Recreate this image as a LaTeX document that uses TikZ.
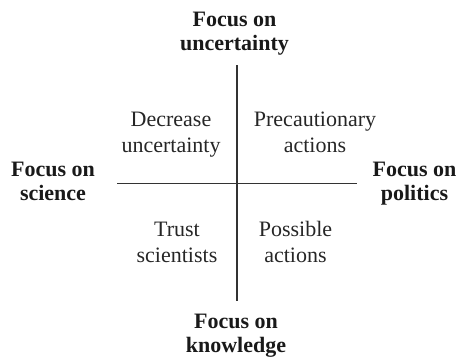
\documentclass[tikz,border=0pt]{standalone}
\usepackage{fontspec}
\setmainfont{Liberation Serif}
\begin{document}
\begin{tikzpicture}[x=1pt,y=-1pt,
  axis/.style={line width=1.3pt, draw=black!80},
  pole/.style={font=\fontsize{22}{23.5}\selectfont\bfseries, align=center, anchor=base, inner sep=0pt, text=black!90},
  quad/.style={font=\fontsize{22}{26}\selectfont, align=center, anchor=base, inner sep=0pt, text=black!85}]
  \useasboundingbox (0,0) rectangle (458,359);
  % axes
  \coordinate (vt) at (237,65);
  \coordinate (vb) at (237,301);
  \coordinate (hl) at (117,183.5);
  \coordinate (hr) at (357,183.5);
  \draw[axis] (vt) -- (vb);
  \draw[axis] (hl) -- (hr);
  % poles (anchor at the baseline of the last line)
  \node[pole] (unc) at (234.5,50) {Focus on\\uncertainty};
  \node[pole] (sci) at (53,200) {Focus on\\science};
  \node[pole] (pol) at (414.5,200) {Focus on\\politics};
  \node[pole] (kno) at (236,352) {Focus on\\knowledge};
  % quadrants
  \node[quad] (dec) at (171,152.5) {Decrease\\uncertainty};
  \node[quad] (pre) at (315,152.5) {Precautionary\\actions};
  \node[quad] (tru) at (177,262.5) {Trust\\scientists};
  \node[quad] (pos) at (295.5,262.5) {Possible\\actions};
\end{tikzpicture}
\end{document}
